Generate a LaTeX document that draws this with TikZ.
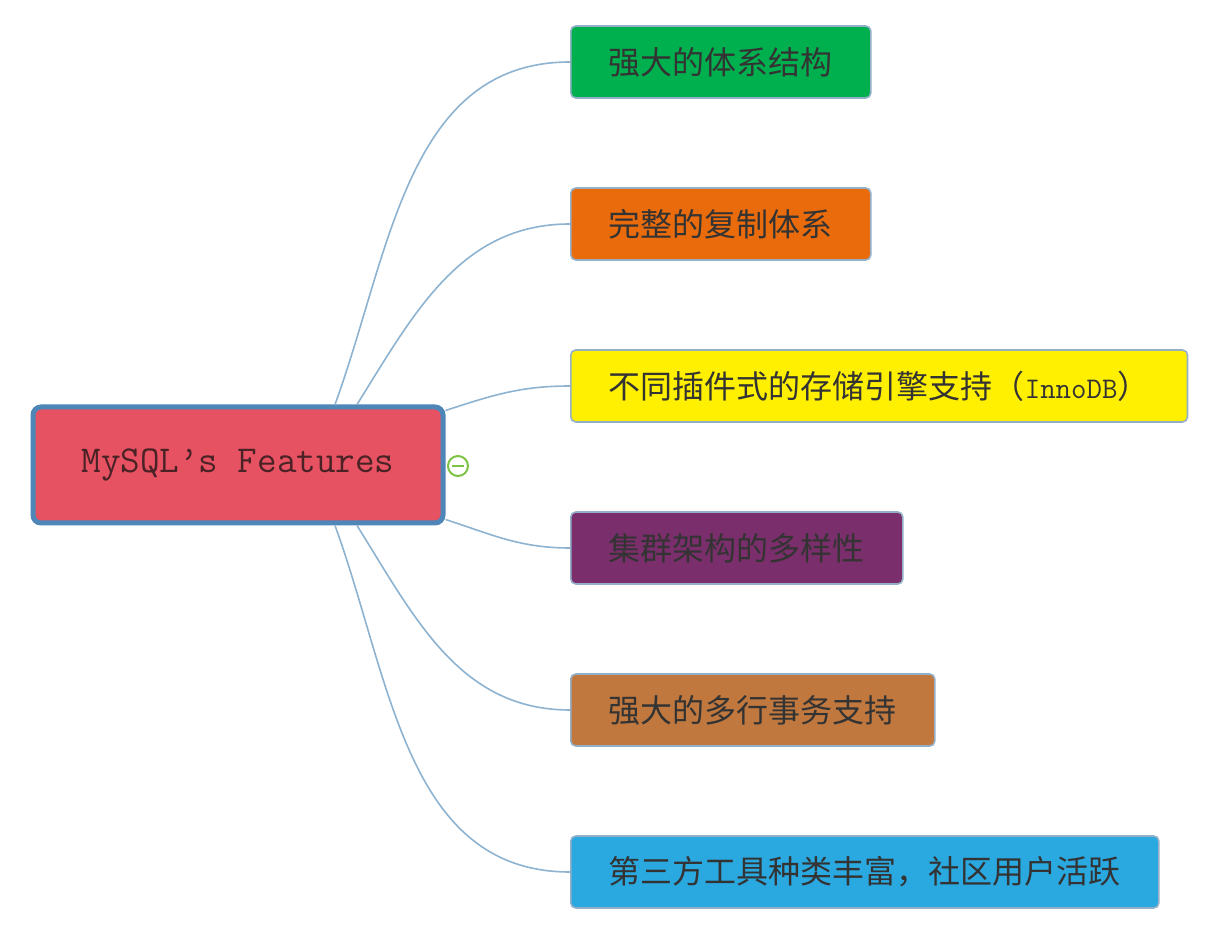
\documentclass[tikz,border=0pt]{standalone}
\usepackage{fontspec}
\newfontfamily\cjk{Noto Sans CJK SC}
\newfontfamily\mono{Latin Modern Mono}
\usetikzlibrary{positioning}
% mind map colours
\definecolor{rootred}{HTML}{E65262}
\definecolor{rootblue}{HTML}{4F86B8}
\definecolor{rootink}{HTML}{4A2226}
\definecolor{boxline}{HTML}{94AFC8}
\definecolor{branchline}{HTML}{8DB3D0}
\definecolor{foldgreen}{HTML}{7DC242}
\definecolor{archgreen}{HTML}{00B04F}
\definecolor{replorange}{HTML}{EA6B0C}
\definecolor{engyellow}{HTML}{FFEF00}
\definecolor{clupurple}{HTML}{7A2E6B}
\definecolor{transbrown}{HTML}{C0783E}
\definecolor{toolblue}{HTML}{2AA8E0}
\begin{document}
\begin{tikzpicture}[x=0.5pt, y=0.5pt,
    feature/.style={draw=boxline, line width=0.8pt, rounded corners=2.5pt, anchor=west,
        minimum height=36pt, inner xsep=19pt, text=black!80,
        font=\cjk\fontsize{16pt}{18pt}\selectfont},
    branch/.style={draw=branchline, line width=0.8pt}]
    \useasboundingbox (0,0) rectangle (1222,928);
    % central topic
    \node[draw=rootblue, fill=rootred, line width=2.5pt, rounded corners=4pt,
        minimum width=205pt, minimum height=58pt, text=rootink,
        font=\mono\fontsize{19pt}{21pt}\selectfont] (root) at (238,463) {MySQL’s Features};
    \node[circle, draw=foldgreen, line width=1pt, minimum size=10pt, inner sep=0pt] (fold) at (458,462) {};
    \draw[foldgreen, line width=1.2pt] ([xshift=-3pt]fold.center) -- ([xshift=3pt]fold.center);
    % branches
    \node[feature, fill=archgreen] (arch) at (570,866) {强大的体系结构};
    \node[feature, fill=replorange] (repl) at (570,704) {完整的复制体系};
    \node[feature, fill=engyellow] (engine) at (570,542)
        {不同插件式的存储引擎支持（{\mono\fontsize{15pt}{17pt}\selectfont InnoDB}）};
    \node[feature, fill=clupurple] (cluster) at (570,380) {集群架构的多样性};
    \node[feature, fill=transbrown] (trans) at (570,218) {强大的多行事务支持};
    \node[feature, fill=toolblue] (tools) at (570,56) {第三方工具种类丰富，社区用户活跃};
    % connectors
    \draw[branch] ([xshift=48.5pt]root.north) to[out=70,in=180] (arch.west);
    \draw[branch] ([xshift=59.5pt]root.north) to[out=58,in=180] (repl.west);
    \draw[branch] ([yshift=-3pt]root.north east) to[out=18,in=180] (engine.west);
    \draw[branch] ([yshift=3pt]root.south east) to[out=-18,in=180] (cluster.west);
    \draw[branch] ([xshift=59.5pt]root.south) to[out=-58,in=180] (trans.west);
    \draw[branch] ([xshift=48.5pt]root.south) to[out=-70,in=180] (tools.west);
\end{tikzpicture}
\end{document}
